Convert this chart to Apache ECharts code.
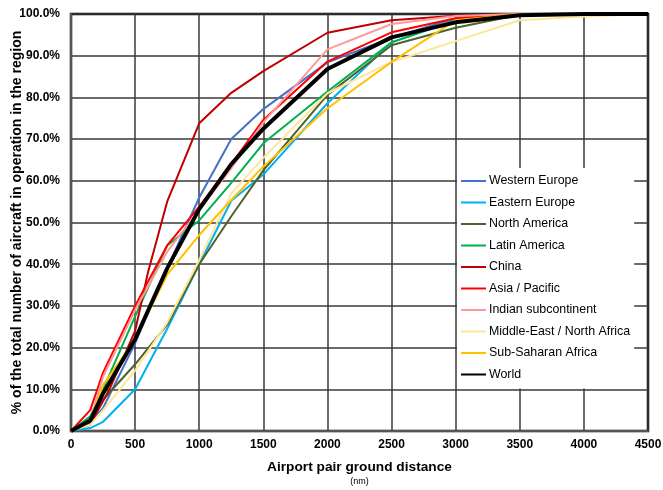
<!DOCTYPE html>
<html><head><meta charset="utf-8">
<script src="https://cdn.jsdelivr.net/npm/echarts@6/dist/echarts.min.js"></script>
<style>html,body{margin:0;padding:0;background:#fff}#c{width:663px;height:490px}</style>
</head><body><div id="c"></div>
<script>
var distances = [0,150,250,500,750,1000,1250,1500,2000,2500,3000,3500,4000,4500];
var chinaDistances = [0,150,300,500,600,750,1000,1250,1500,2000,2500,3000,3500,4000,4500];

var westernEurope = [0,2,5.5,21,39,56,70,77.2,88.4,94.3,99,100,100,100];
var easternEurope = [0,0.7,2.2,10,24.5,40,55.2,61.5,78.6,93.2,98.5,100,100,100];
var northAmerica  = [0,2,7.5,16,25.5,40,51.5,62.5,80.6,92.5,96.7,99.8,100,100];
var latinAmerica  = [0,3.5,10,27.5,44.5,50.5,59.5,69,81.4,93.2,98.5,100,100,100];
var china         = [0,1.5,10,24,38,55,73.8,81.1,86.3,95.5,98.5,99.6,100,100,100];
var asiaPacific   = [0,5,14,30,44.5,53.8,64,74.6,88.6,95.6,99,100,100,100];
var indianSub     = [0,2.5,13,29,43,53,63,74,91.5,97.6,99.5,100,100,100];
var middleEast    = [0,1.5,5,14.5,26,41,57,65.5,81,88.5,93.5,98.5,99.4,100];
var subSaharan    = [0,2.5,11,22,37.5,47,55.4,63.4,77.4,88.5,98.5,100,100,100];
var world         = [0,2.5,9,22,39,53.2,64,72.5,86.8,94.4,98,99.7,100,100];

var names = ['Western Europe','Eastern Europe','North America','Latin America','China','Asia / Pacific','Indian subcontinent','Middle-East / North Africa','Sub-Saharan Africa','World'];
var colors = ['#4472C4','#00B0F0','#4F6228','#00B050','#C00000','#FF0000','#FF9999','#FFE699','#FFC000','#000000'];
var values = [westernEurope,easternEurope,northAmerica,latinAmerica,china,asiaPacific,indianSub,middleEast,subSaharan,world];

function pairs(xs, ys){ return xs.map(function(x,i){ return [x, ys[i]]; }); }

var font = 'Liberation Sans, Arial, sans-serif';
var series = names.map(function(n,i){
  var xs = (n === 'China') ? chinaDistances : distances;
  return {
    name: n, type: 'line', data: pairs(xs, values[i]),
    symbol: 'none', showSymbol: false, smooth: false,
    lineStyle: {color: colors[i], width: n === 'World' ? 4 : 2},
    itemStyle: {color: colors[i]},
    z: n === 'World' ? 5 : 3
  };
});

var chart = echarts.init(document.getElementById('c'), null, {renderer:'canvas'});
chart.setOption({
  animation: false,
  backgroundColor: '#fff',
  grid: {left: 71, right: 15, top: 14, bottom: 59, show: true, borderColor: '#000', borderWidth: 2.5,
         containLabel: false, outerBoundsMode: 'none'},
  xAxis: {
    type: 'value', min: 0, max: 4500, interval: 500,
    axisLine: {show: true, lineStyle: {color: '#555', width: 2}},
    axisTick: {show: false},
    splitLine: {show: true, lineStyle: {color: '#3a3a3a', width: 1.5}},
    axisLabel: {color: '#000', fontFamily: font, fontWeight: 'bold', fontSize: 12, margin: 8,
      formatter: function(v){ return String(v); }},
    name: '{a|Airport pair ground distance}\n{b|(nm)}',
    nameLocation: 'middle', nameGap: 28, nameMoveOverlap: false,
    nameTextStyle: {rich: {
      a: {fontFamily: font, fontWeight: 'bold', fontSize: 13.7, color: '#000', lineHeight: 16},
      b: {fontFamily: font, fontSize: 9, color: '#000', lineHeight: 14}
    }}
  },
  yAxis: {
    type: 'value', min: 0, max: 100, interval: 10,
    axisLine: {show: true, lineStyle: {color: '#555', width: 2}},
    axisTick: {show: false},
    splitLine: {show: true, lineStyle: {color: '#3a3a3a', width: 1.5}},
    axisLabel: {color: '#000', fontFamily: font, fontWeight: 'bold', fontSize: 12, margin: 11,
      formatter: function(v){ return v.toFixed(1) + '%'; }},
    name: '% of the total number of aircraft in operation in the region',
    nameLocation: 'middle', nameGap: 47, nameMoveOverlap: false,
    nameTextStyle: {fontFamily: font, fontWeight: 'bold', fontSize: 14, color: '#000'}
  },
  legend: {
    data: names, orient: 'vertical', left: 457, top: 168,
    backgroundColor: '#fff', padding: [7, 4, 8, 4],
    itemWidth: 25, itemHeight: 2, itemGap: 9.5,
    icon: 'rect',
    textStyle: {fontFamily: font, fontSize: 12.4, color: '#000', padding: [0,0,0,-2]},
    z: 10
  },
  series: series
});
</script></body></html>
